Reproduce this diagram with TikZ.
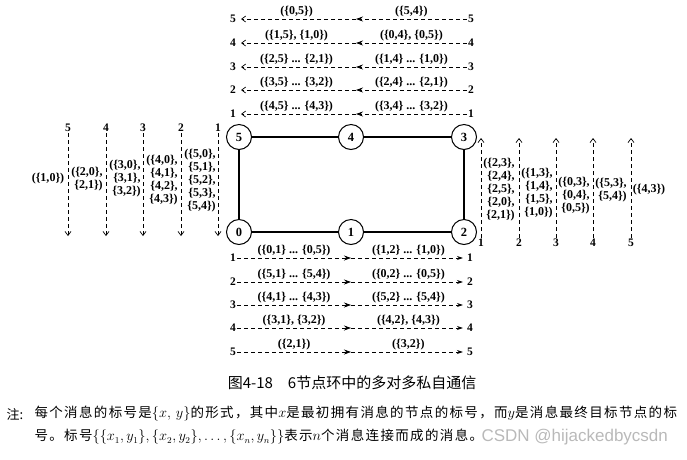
\documentclass[tikz,border=0pt]{standalone}
\usepackage{fontspec}
\setmainfont{Liberation Serif}
\newfontfamily\cjk[LetterSpace=10]{Noto Sans CJK SC}
\newfontfamily\cjkcap{Noto Sans CJK SC}
\newfontfamily\wmfont{Liberation Sans}
\usetikzlibrary{arrows.meta}

\tikzset{
  ringnode/.style={circle, draw, line width=1pt, minimum size=25pt, inner sep=0pt, font=\fontsize{12.5}{12.5}\selectfont\bfseries},
  ringedge/.style={line width=2.4pt},
  numlab/.style={inner sep=1pt, font=\fontsize{11.5}{11.5}\selectfont\bfseries},
  msglab/.style={inner sep=1pt, font=\fontsize{12}{13}\selectfont\bfseries},
  msgblock/.style={msglab, align=right},
  flow/.style={dash pattern=on 4pt off 3pt, line width=0.7pt},
  midtip/.style={-{Stealth[length=7pt,width=5pt]}},
  endtip/.style={-{Straight Barb[length=4pt,width=6pt]}, shorten >=4pt},
  fulltip/.style={-{Stealth[length=6pt,width=4pt]}, shorten >=3pt},
}

\begin{document}
\begin{tikzpicture}[x=1pt, y=-1pt]
        \useasboundingbox (0,0) rectangle (687,459);

        % Ring nodes
        \node (n5) at (239,137) [ringnode] {5};
        \node (n4) at (351,137) [ringnode] {4};
        \node (n3) at (464,137) [ringnode] {3};
        \node (n0) at (239,232) [ringnode] {0};
        \node (n1) at (351,232) [ringnode] {1};
        \node (n2) at (464,232) [ringnode] {2};

        % Ring edges
        \draw[ringedge] (n0) -- (n1) -- (n2) -- (n3) -- (n4) -- (n5) -- (n0);

        % Top rows (right to left)
        \node (tl5) at (233,19) [numlab] {5};
        \node (tr5) at (471,19) [numlab] {5};
        \coordinate (tm5) at (356,19);
        \draw[flow, midtip] (tr5) -- (tm5) node[msglab, midway, above=1pt] {(\{5,4\})};
        \draw[flow, endtip] (tm5) -- (tl5) node[msglab, midway, above=1pt] {(\{0,5\})};

        \node (tl4) at (233,43) [numlab] {4};
        \node (tr4) at (471,43) [numlab] {4};
        \coordinate (tm4) at (356,43);
        \draw[flow, midtip] (tr4) -- (tm4) node[msglab, midway, above=1pt] {(\{0,4\}, \{0,5\})};
        \draw[flow, endtip] (tm4) -- (tl4) node[msglab, midway, above=1pt] {(\{1,5\}, \{1,0\})};

        \node (tl3) at (233,67) [numlab] {3};
        \node (tr3) at (471,67) [numlab] {3};
        \coordinate (tm3) at (356,67);
        \draw[flow, midtip] (tr3) -- (tm3) node[msglab, midway, above=1pt] {(\{1,4\} ... \{1,0\})};
        \draw[flow, endtip] (tm3) -- (tl3) node[msglab, midway, above=1pt] {(\{2,5\} ... \{2,1\})};

        \node (tl2) at (233,90) [numlab] {2};
        \node (tr2) at (471,90) [numlab] {2};
        \coordinate (tm2) at (356,90);
        \draw[flow, midtip] (tr2) -- (tm2) node[msglab, midway, above=1pt] {(\{2,4\} ... \{2,1\})};
        \draw[flow, endtip] (tm2) -- (tl2) node[msglab, midway, above=1pt] {(\{3,5\} ... \{3,2\})};

        \node (tl1) at (233,114) [numlab] {1};
        \node (tr1) at (471,114) [numlab] {1};
        \coordinate (tm1) at (356,114);
        \draw[flow, midtip] (tr1) -- (tm1) node[msglab, midway, above=1pt] {(\{3,4\} ... \{3,2\})};
        \draw[flow, endtip] (tm1) -- (tl1) node[msglab, midway, above=1pt] {(\{4,5\} ... \{4,3\})};

        % Bottom rows (left to right)
        \node (bl1) at (233,258) [numlab] {1};
        \node (br1) at (470,258) [numlab] {1};
        \coordinate (bm1) at (351,258);
        \draw[flow, midtip] (bl1) -- (bm1) node[msglab, midway, above=1pt] {(\{0,1\} ... \{0,5\})};
        \draw[flow, fulltip] (bm1) -- (br1) node[msglab, midway, above=1pt] {(\{1,2\} ... \{1,0\})};

        \node (bl2) at (233,282) [numlab] {2};
        \node (br2) at (470,282) [numlab] {2};
        \coordinate (bm2) at (351,282);
        \draw[flow, midtip] (bl2) -- (bm2) node[msglab, midway, above=1pt] {(\{5,1\} ... \{5,4\})};
        \draw[flow, fulltip] (bm2) -- (br2) node[msglab, midway, above=1pt] {(\{0,2\} ... \{0,5\})};

        \node (bl3) at (233,305) [numlab] {3};
        \node (br3) at (470,305) [numlab] {3};
        \coordinate (bm3) at (351,305);
        \draw[flow, midtip] (bl3) -- (bm3) node[msglab, midway, above=1pt] {(\{4,1\} ... \{4,3\})};
        \draw[flow, fulltip] (bm3) -- (br3) node[msglab, midway, above=1pt] {(\{5,2\} ... \{5,4\})};

        \node (bl4) at (233,328) [numlab] {4};
        \node (br4) at (470,328) [numlab] {4};
        \coordinate (bm4) at (351,328);
        \draw[flow, midtip] (bl4) -- (bm4) node[msglab, midway, above=1pt] {(\{3,1\}, \{3,2\})};
        \draw[flow, fulltip] (bm4) -- (br4) node[msglab, midway, above=1pt] {(\{4,2\}, \{4,3\})};

        \node (bl5) at (233,352) [numlab] {5};
        \node (br5) at (470,352) [numlab] {5};
        \coordinate (bm5) at (351,352);
        \draw[flow, midtip] (bl5) -- (bm5) node[msglab, midway, above=1pt] {(\{2,1\})};
        \draw[flow, fulltip] (bm5) -- (br5) node[msglab, midway, above=1pt] {(\{3,2\})};

        % Left columns (downwards)
        \node (lc5) at (68,128) [numlab] {5};
        \node (lc4) at (106,128) [numlab] {4};
        \node (lc3) at (143,128) [numlab] {3};
        \node (lc2) at (181,128) [numlab] {2};
        \node (lc1) at (218,128) [numlab] {1};
        \coordinate (lb5) at (68,240);
        \coordinate (lb4) at (106,240);
        \coordinate (lb3) at (143,240);
        \coordinate (lb2) at (181,240);
        \coordinate (lb1) at (218,240);
        \draw[flow, endtip] (lc5) -- (lb5);
        \draw[flow, endtip] (lc4) -- (lb4);
        \draw[flow, endtip] (lc3) -- (lb3);
        \draw[flow, endtip] (lc2) -- (lb2);
        \draw[flow, endtip] (lc1) -- (lb1);

        % Left messages
        \node (lm5) at (48,179) [msgblock] {(\{1,0\})};
        \node (lm4) at (87,179) [msgblock] {(\{2,0\},\\ \{2,1\})};
        \node (lm3) at (125,179) [msgblock] {(\{3,0\},\\ \{3,1\},\\ \{3,2\})};
        \node (lm2) at (162,180) [msgblock] {(\{4,0\},\\ \{4,1\},\\ \{4,2\},\\ \{4,3\})};
        \node (lm1) at (200,181) [msgblock] {(\{5,0\},\\ \{5,1\},\\ \{5,2\},\\ \{5,3\},\\ \{5,4\})};

        % Right columns (upwards)
        \node (rc1) at (481,243) [numlab] {1};
        \node (rc2) at (519,243) [numlab] {2};
        \node (rc3) at (556,243) [numlab] {3};
        \node (rc4) at (593,243) [numlab] {4};
        \node (rc5) at (631,243) [numlab] {5};
        \coordinate (rt1) at (481,134);
        \coordinate (rt2) at (519,134);
        \coordinate (rt3) at (556,134);
        \coordinate (rt4) at (593,134);
        \coordinate (rt5) at (631,134);
        \draw[flow, endtip] (rc1) -- (rt1);
        \draw[flow, endtip] (rc2) -- (rt2);
        \draw[flow, endtip] (rc3) -- (rt3);
        \draw[flow, endtip] (rc4) -- (rt4);
        \draw[flow, endtip] (rc5) -- (rt5);

        % Right messages
        \node (rm1) at (499,190) [msgblock] {(\{2,3\},\\ \{2,4\},\\ \{2,5\},\\ \{2,0\},\\ \{2,1\})};
        \node (rm2) at (537,193) [msgblock] {(\{1,3\},\\ \{1,4\},\\ \{1,5\},\\ \{1,0\})};
        \node (rm3) at (574,196) [msgblock] {(\{0,3\},\\ \{0,4\},\\ \{0,5\})};
        \node (rm4) at (611,190) [msgblock] {(\{5,3\},\\ \{5,4\})};
        \node (rm5) at (649,190) [msgblock] {(\{4,3\})};

        % Caption and note
        \node (cap) at (352,383) [font=\cjkcap\fontsize{15}{15}\selectfont] {图4-18\quad 6节点环中的多对多私自通信};
        \node (nhead) at (3,414) [anchor=west, font=\cjkcap\fontsize{13}{13}\selectfont] {注:};
        \node (note1) at (31,414) [anchor=west, font=\cjk\fontsize{13.5}{13.5}\selectfont] {每个消息的标号是$\{x,\,y\}$的形式，其中$x$是最初拥有消息的节点的标号，而$y$是消息最终目标节点的标};
        \node (note2) at (31,437) [anchor=west, font=\cjk\fontsize{13.5}{13.5}\selectfont] {号。标号$\{\{x_1,y_1\},\{x_2,y_2\},\ldots,\{x_n,y_n\}\}$表示$n$个消息连接而成的消息。};
        \node (wm) at (478,437) [anchor=west, text=gray!55, font=\wmfont\fontsize{17}{17}\selectfont] {CSDN @hijackedbycsdn};
      \end{tikzpicture}
\end{document}
